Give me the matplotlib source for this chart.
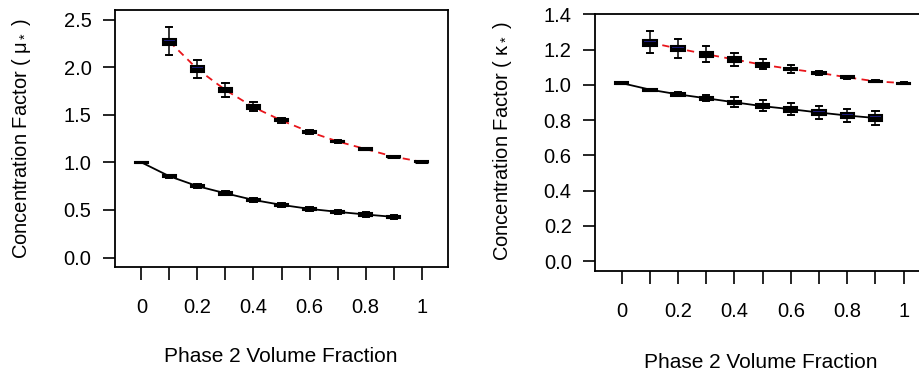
import matplotlib
matplotlib.use("Agg")
import matplotlib.pyplot as plt

# ── Data ─────────────────────────────────────────────────────────────────────
x_all   = [0.0, 0.1, 0.2, 0.3, 0.4, 0.5, 0.6, 0.7, 0.8, 0.9, 1.0]
x_upper = x_all[1:]     # dashed red series
x_lower = x_all[:-1]    # solid black series

# shear (mu*) panel
mu_up_med = [2.27, 1.98, 1.76, 1.58, 1.44, 1.32, 1.22, 1.14, 1.06, 1.005]
mu_up_q1  = [2.23, 1.95, 1.74, 1.565, 1.43, 1.31, 1.211, 1.132, 1.053, 1.0]
mu_up_q3  = [2.30, 2.01, 1.78, 1.60, 1.455, 1.33, 1.229, 1.148, 1.067, 1.01]
mu_up_lo  = [2.13, 1.89, 1.69, 1.54, 1.415, 1.30, 1.205, 1.128, 1.05, 0.998]
mu_up_hi  = [2.42, 2.08, 1.83, 1.63, 1.47, 1.34, 1.235, 1.152, 1.07, 1.012]

mu_lo_med = [1.0, 0.854, 0.75, 0.675, 0.605, 0.553, 0.511, 0.48, 0.452, 0.427]
mu_lo_q1  = [0.995, 0.844, 0.738, 0.662, 0.592, 0.540, 0.498, 0.467, 0.439, 0.414]
mu_lo_q3  = [1.005, 0.864, 0.762, 0.688, 0.618, 0.566, 0.524, 0.493, 0.465, 0.440]
mu_lo_lo  = [0.994, 0.840, 0.732, 0.655, 0.583, 0.530, 0.488, 0.457, 0.430, 0.405]
mu_lo_hi  = [1.006, 0.868, 0.768, 0.695, 0.627, 0.576, 0.534, 0.503, 0.474, 0.449]

# bulk (kappa*) panel
ka_up_med = [1.24, 1.206, 1.174, 1.144, 1.114, 1.09, 1.068, 1.043, 1.02, 1.01]
ka_up_q1  = [1.223, 1.19, 1.16, 1.132, 1.104, 1.082, 1.061, 1.038, 1.016, 1.007]
ka_up_q3  = [1.257, 1.222, 1.188, 1.156, 1.124, 1.098, 1.075, 1.048, 1.024, 1.013]
ka_up_lo  = [1.18, 1.153, 1.13, 1.108, 1.09, 1.07, 1.056, 1.036, 1.014, 1.006]
ka_up_hi  = [1.307, 1.263, 1.22, 1.18, 1.145, 1.11, 1.08, 1.05, 1.026, 1.014]

ka_lo_med = [1.01, 0.973, 0.946, 0.924, 0.901, 0.879, 0.862, 0.843, 0.826, 0.812]
ka_lo_q1  = [1.006, 0.968, 0.939, 0.915, 0.891, 0.867, 0.848, 0.828, 0.811, 0.795]
ka_lo_q3  = [1.014, 0.978, 0.953, 0.933, 0.911, 0.891, 0.876, 0.858, 0.841, 0.829]
ka_lo_lo  = [1.005, 0.967, 0.935, 0.906, 0.875, 0.85, 0.828, 0.808, 0.788, 0.77]
ka_lo_hi  = [1.015, 0.979, 0.957, 0.942, 0.93, 0.913, 0.895, 0.879, 0.864, 0.852]

x_ticklabels = ["0", "", "0.2", "", "0.4", "", "0.6", "", "0.8", "", "1"]

# ── Style ─────────────────────────────────────────────────────────────────────
BOX_FILL = "#1e1e86"
plt.rcParams.update({
    "font.family":       ["Liberation Sans", "DejaVu Sans"],
    "mathtext.fontset":  "custom",
    "mathtext.rm":       "Liberation Sans",
    "mathtext.it":       "Liberation Sans",
    "font.size":         14.5,
    "axes.linewidth":    1.3,
    "xtick.major.size":  9,
    "ytick.major.size":  9,
    "xtick.major.width": 1.2,
    "ytick.major.width": 1.2,
})


def stats(med, q1, q3, lo, hi):
    return [dict(med=m, q1=a, q3=b, whislo=l, whishi=h, fliers=[])
            for m, a, b, l, h in zip(med, q1, q3, lo, hi)]


def draw_boxes(ax, pos, st):
    ax.bxp(st, positions=pos, widths=0.047, patch_artist=True,
           manage_ticks=False, showfliers=False,
           boxprops=dict(facecolor=BOX_FILL, edgecolor="black", linewidth=1.5),
           medianprops=dict(color="black", linewidth=2.2),
           whiskerprops=dict(color="black", linewidth=1.1),
           capprops=dict(color="black", linewidth=1.4),
           capwidths=0.022)


def panel(ax, up, lo, yticks, ylim):
    ax.plot(x_upper, up[0], color="#e8151b", ls=(0, (4, 3)), lw=1.3, zorder=1)
    ax.plot(x_lower, lo[0], color="black", lw=1.3, zorder=1)
    draw_boxes(ax, x_upper, stats(*up))
    draw_boxes(ax, x_lower, stats(*lo))
    ax.set_xlim(-0.094, 1.094)
    ax.set_ylim(*ylim)
    ax.set_xticks(x_all)
    ax.set_xticklabels(x_ticklabels)
    ax.set_yticks(yticks)
    ax.set_yticklabels([f"{v:.1f}" for v in yticks])
    ax.tick_params(axis="x", pad=13)
    ax.tick_params(axis="y", pad=8)
    return ax


fig = plt.figure(figsize=(9.2, 3.74), dpi=100)

ax1 = fig.add_axes([0.125, 0.286, 0.362, 0.687])
panel(ax1,
      (mu_up_med, mu_up_q1, mu_up_q3, mu_up_lo, mu_up_hi),
      (mu_lo_med, mu_lo_q1, mu_lo_q3, mu_lo_lo, mu_lo_hi),
      [0.0, 0.5, 1.0, 1.5, 2.0, 2.5], (-0.1, 2.6))

ax2 = fig.add_axes([0.647, 0.275, 0.364, 0.688])
panel(ax2,
      (ka_up_med, ka_up_q1, ka_up_q3, ka_up_lo, ka_up_hi),
      (ka_lo_med, ka_lo_q1, ka_lo_q3, ka_lo_lo, ka_lo_hi),
      [0.0, 0.2, 0.4, 0.6, 0.8, 1.0, 1.2, 1.4], (-0.057, 1.403))

# axis titles placed where the reference has them
fig.text(22 / 920, 1 - 138.5 / 374, r"Concentration Factor ( $\mu_*$ )",
         rotation=90, ha="center", va="center", fontsize=14.5)
fig.text(503 / 920, 1 - 141.5 / 374, r"Concentration Factor ( $\kappa_*$ )",
         rotation=90, ha="center", va="center", fontsize=14.5)
fig.text(281 / 920, 1 - 357 / 374, "Phase 2 Volume Fraction",
         ha="center", va="center", fontsize=15)
fig.text(761 / 920, 1 - 362 / 374, "Phase 2 Volume Fraction",
         ha="center", va="center", fontsize=15)

fig.savefig("out.png", dpi=100)
